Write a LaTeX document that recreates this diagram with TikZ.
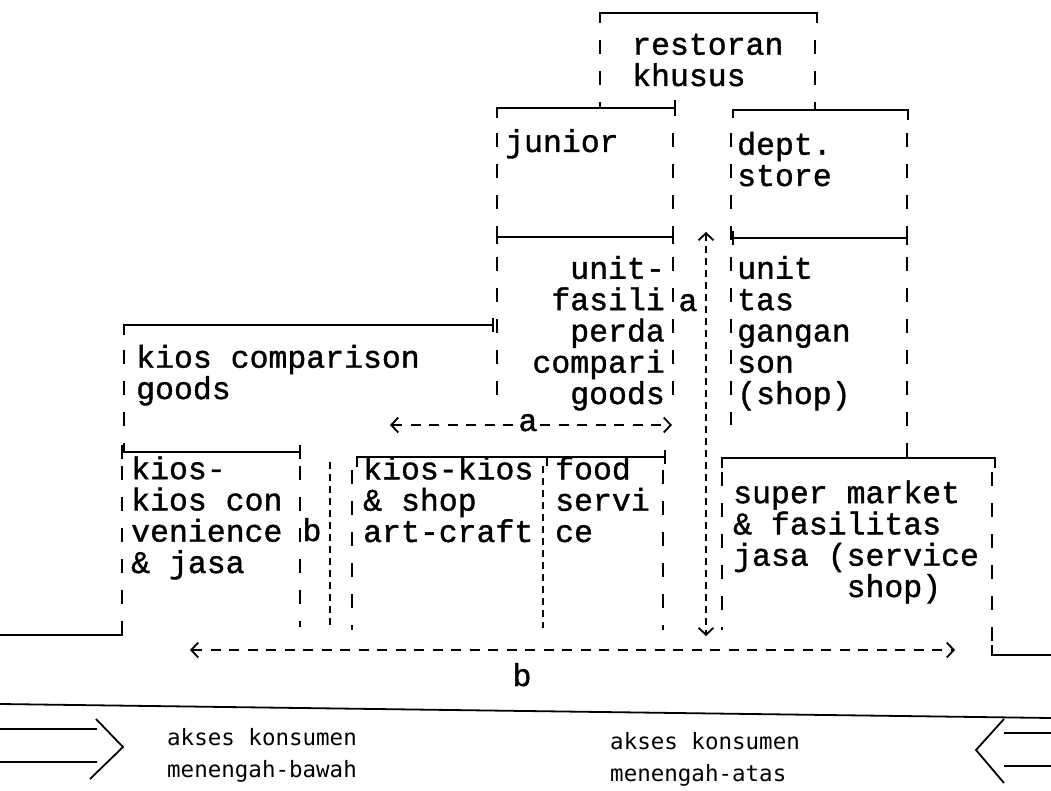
\documentclass[tikz,border=0pt]{standalone}
\usepackage{fontspec}
\newfontfamily\typefont[FakeBold=1.2]{Liberation Mono}
\newfontfamily\printfont{DejaVu Sans Mono}
\usetikzlibrary{arrows.meta}
\tikzset{
 wall/.style={line width=1.8pt},
 side/.style={line width=2pt,dash pattern=on 14pt off 17pt},
 aisle/.style={line width=1.8pt,dash pattern=on 7pt off 5pt},
 dim/.style={line width=1.8pt,dash pattern=on 10pt off 8.5pt,{Straight Barb[length=7pt,width=15pt]}-{Straight Barb[length=7pt,width=15pt]}},
 txt/.style={font=\typefont\fontsize{31.5}{31.3}\selectfont,inner sep=0pt,anchor=base west,align=left},
 note/.style={font=\printfont\fontsize{22.5}{32}\selectfont,inner sep=0pt,anchor=base west,align=left}
}
\begin{document}
\begin{tikzpicture}[x=1pt,y=-1pt]
\useasboundingbox (0,0) rectangle (1051,791);
% upper floor
\draw[wall] (600,23)--(600,13)--(817,13)--(817,23);
\draw[side] (600,40)--(600,108) (815,40)--(815,110);
\node[txt] (restoran) at (632,86) {restoran\\khusus};
\draw[wall] (497,118)--(497,108)--(675,108) (675,100)--(675,116);
\draw[wall] (733,118)--(733,110)--(908,110)--(908,120);
\draw[side] (497,133)--(497,402) (673,133)--(673,402);
\draw[side] (731,133)--(731,425) (907,133)--(907,457);
\draw[wall] (497,230)--(497,244) (497,237)--(673,237) (673,230)--(673,244);
\draw[wall] (733,231)--(733,245) (733,238)--(907,238) (907,231)--(907,245);
\node[txt] (junior) at (505,152) {junior};
\node[txt] (dept) at (737,186) {dept.\\store};
\node[txt,anchor=base east,align=right] (unitkiri) at (665,404) {unit-\\fasili\\perda\\compari\\goods};
\node[txt] (unitkanan) at (737,404) {unit\\tas\\gangan\\son\\(shop)};
% ground floor
\draw[wall] (124,335)--(124,325)--(493,325) (493,318)--(493,332);
\draw[side] (124,350)--(124,452);
\node[txt] (kioscomp) at (136,399) {kios comparison\\goods};
\draw[wall] (122,445)--(122,459) (122,452)--(300,452) (300,445)--(300,459);
\draw[side] (122,466)--(122,625) (300,466)--(300,627);
\draw[wall] (122,625)--(122,635)--(0,635);
\node[txt] (kioskios) at (131,573) {kios-\\kios con\\venience\\\& jasa};
\draw[aisle] (330,462)--(330,628);
\node[txt,anchor=base] (lorongb) at (312,541) {b};
\draw[wall] (357,467)--(357,457)--(665,457) (665,450)--(665,464) (547,457)--(547,466);
\draw[side] (352,470)--(352,630) (663,470)--(663,630);
\draw[aisle] (543,466)--(543,628);
\node[txt] (artcraft) at (363,542) {kios-kios\\\& shop\\art-craft};
\node[txt] (food) at (555,542) {food\\servi\\ce};
\draw[wall] (722,468)--(722,458)--(995,458)--(995,468) (907,452)--(907,458);
\draw[side] (722,472)--(722,630) (992,472)--(992,645);
\draw[wall] (992,645)--(992,655)--(1051,655);
\node[txt] (super) at (733,597) {super market\\\& fasilitas\\jasa (service\\\phantom{jasa (}shop)};
% circulation
\coordinate (atas) at (706,232);
\coordinate (bawah) at (706,636);
\draw[dim,dash pattern=on 7pt off 5pt] (atas)--(bawah);
\node[txt,anchor=base] (loronga) at (688,311) {a};
\coordinate (akiri) at (390,425);
\coordinate (akanan) at (672,425);
\draw[dim] (akiri)--(akanan);
\node[txt,anchor=base,fill=white,inner xsep=2pt] (lebara) at (528,431) {a};
\coordinate (bkiri) at (190,650);
\coordinate (bkanan) at (955,650);
\draw[dim] (bkiri)--(bkanan);
\node[txt,anchor=base] (lebarb) at (522,686) {b};
% road and access
\draw[wall] (0,704)--(1051,718);
\draw[wall] (0,729)--(97,729) (0,762)--(97,762) (96,719)--(123,747)--(90,779);
\draw[wall] (1051,733)--(1004,733) (1051,766)--(1004,766) (1004,719)--(976,750)--(1004,783);
\node[note] (bawahnote) at (167,777) {akses konsumen\\menengah-bawah};
\node[note] (atasnote) at (610,781) {akses konsumen\\menengah-atas};
\end{tikzpicture}
\end{document}
